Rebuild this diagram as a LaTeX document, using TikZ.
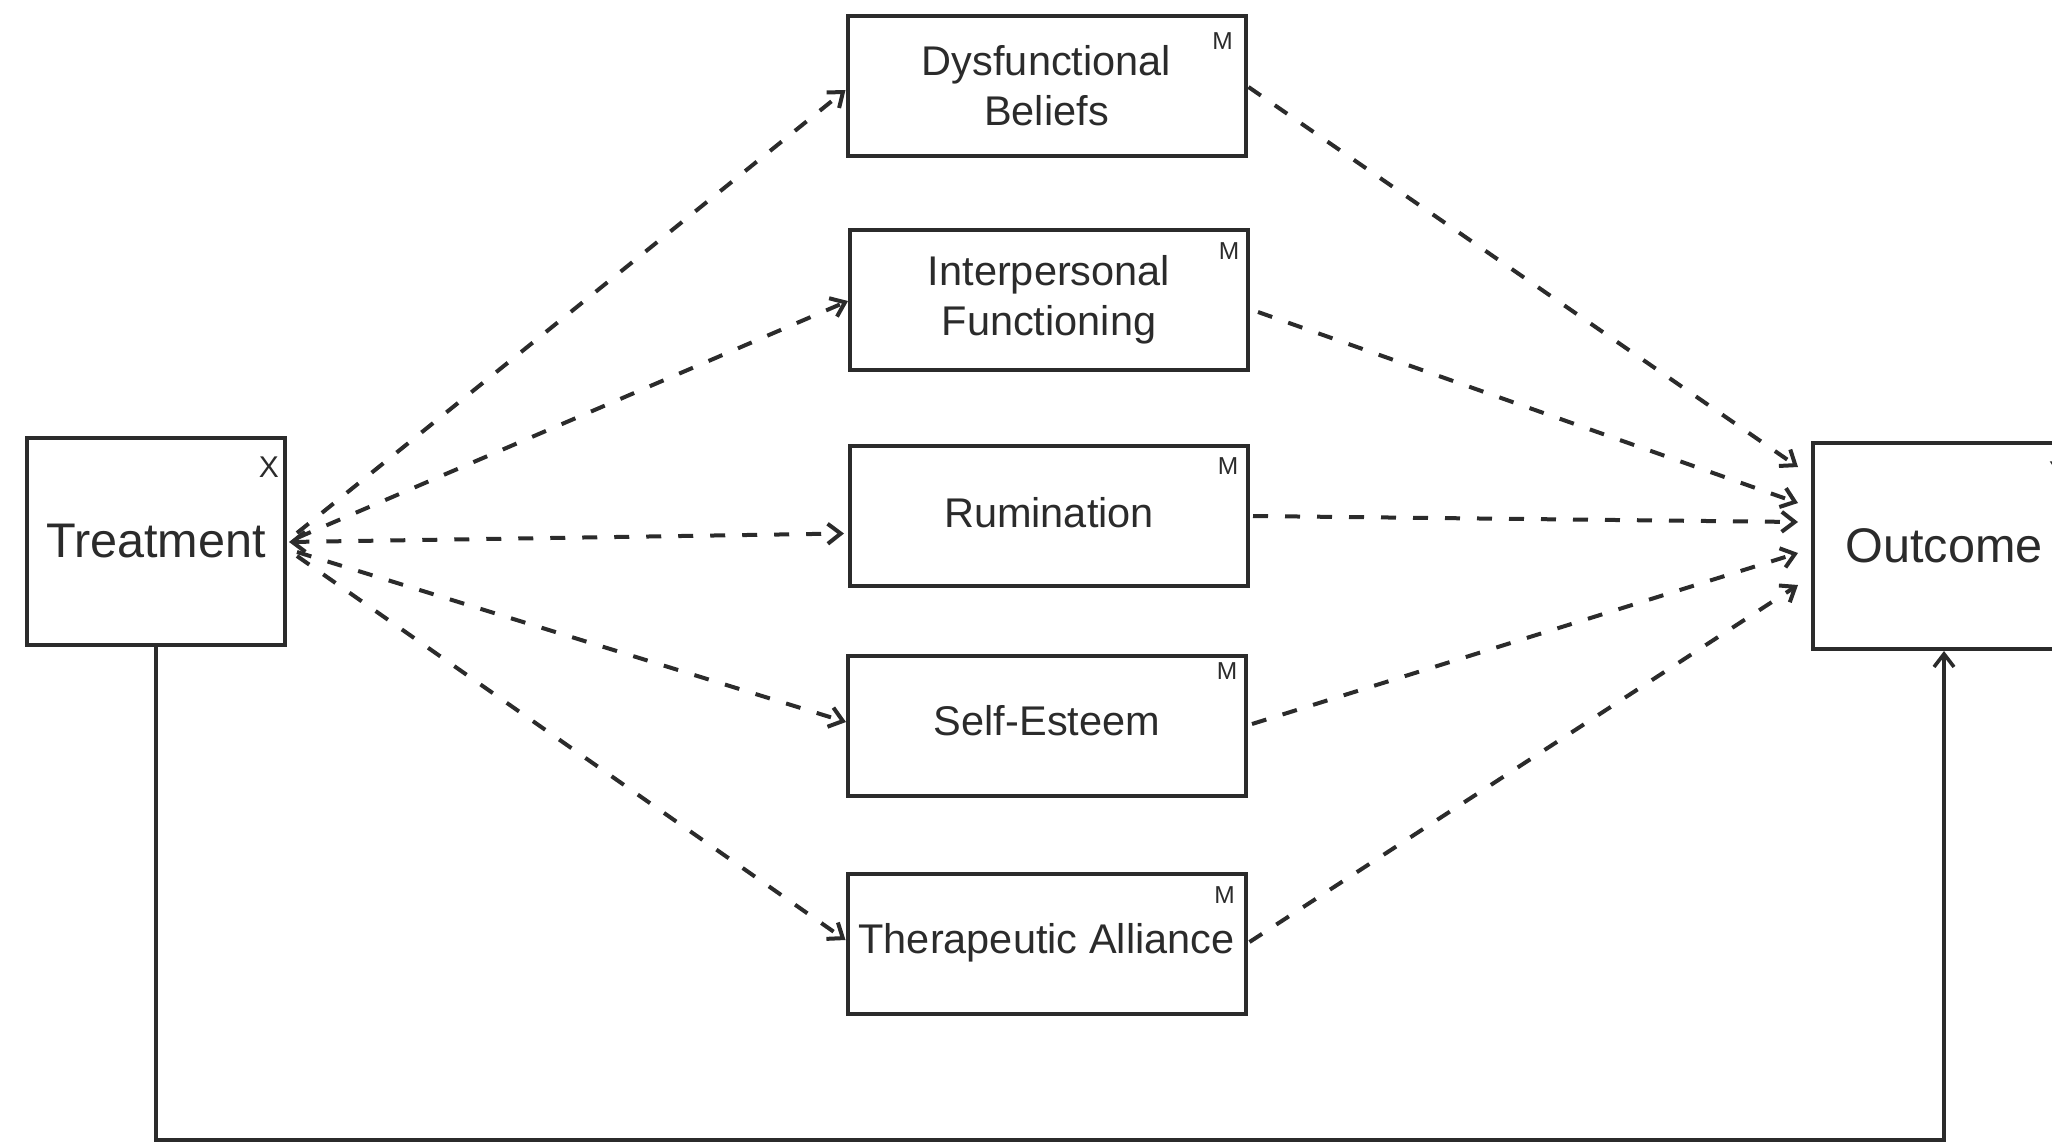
\documentclass[tikz,border=0pt]{standalone}
\usepackage{fontspec}
\setmainfont{Liberation Sans}
\usetikzlibrary{arrows.meta,calc}
\definecolor{ink}{HTML}{2B2B2B}
\begin{document}
\begin{tikzpicture}[x=0.5pt,y=-0.5pt,
  box/.style={draw=ink, line width=2pt, rectangle, inner sep=0pt, align=center, text=ink},
  medbox/.style={box, minimum width=199pt, minimum height=70pt, font=\fontsize{20.75}{24.8}\selectfont},
  endbox/.style={box, minimum width=129pt, minimum height=103.5pt, font=\fontsize{24.3}{28}\selectfont},
  oneline/.style={text depth=0.3em},
  tag/.style={text=ink, inner sep=0pt, font=\fontsize{12.25}{14}\selectfont},
  bigtag/.style={tag, font=\fontsize{15}{17}\selectfont},
  medarrow/.style={draw=ink, line width=2pt, dash pattern=on 7.5pt off 8.5pt,
    -{Straight Barb[length=6.5pt,width=10pt,line width=2pt]}},
  bothends/.style={{Straight Barb[length=6.5pt,width=10pt,line width=2pt]}-{Straight Barb[length=6.5pt,width=10pt,line width=2pt]}},
  direct/.style={draw=ink, line width=1.6pt, -{Straight Barb[length=6.5pt,width=10pt,line width=1.8pt]}}
]
\useasboundingbox (0,0) rectangle (2052,1142);
\clip (0,0) rectangle (2052,1142);

% nodes
\node[endbox] (T) at (156,541.5) {Treatment};
\node[endbox, minimum width=131pt, minimum height=103pt] (O) at (1944,546) {Outcome};
\node[medbox] (D) at (1046.5,85.5) {Dysfunctional\\Beliefs};
\node[medbox] (I) at (1049,300) {Interpersonal\\Functioning};
\node[medbox,oneline] (R) at (1049,515.5) {Rumination};
\node[medbox,text depth=0.6em] (S) at (1047,726) {Self-Esteem};
\node[medbox,text depth=0.55em] (A) at (1046.5,944) {Therapeutic Alliance};

% tags
\node[bigtag] (tx) at ($(T.north east)+(-18,31)$) {X};
\node[bigtag] (ty) at ($(O.north east)+(-18,31)$) {Y};
\node[tag] (md) at ($(D.north east)+(-25,28)$) {M};
\node[tag] (mi) at ($(I.north east)+(-21,23)$) {M};
\node[tag] (mr) at ($(R.north east)+(-22,23)$) {M};
\node[tag] (ms) at ($(S.north east)+(-21,17)$) {M};
\node[tag] (ma) at ($(A.north east)+(-23,23)$) {M};

% treatment -> mediators
\draw[medarrow] ($(T.east)+(10,-8.5)$) -- ($(D.west)+(0,4.5)$);
\draw[medarrow] ($(T.east)+(10,-3.5)$) -- ($(I.west)+(0,1)$);
\draw[medarrow,bothends] ($(T.east)+(2,0.5)$) -- ($(R.west)+(-4,18)$);
\draw[medarrow] ($(T.east)+(10,10.5)$) -- ($(S.west)+(0,-4)$);
\draw[medarrow] ($(T.east)+(10,14.5)$) -- ($(A.west)+(0,-4)$);

% mediators -> outcome
\draw[medarrow] ($(D.east)+(1,1.5)$) -- ($(O.west)+(-13,-79)$);
\draw[medarrow] ($(I.east)+(8,12)$) -- ($(O.west)+(-13,-43)$);
\draw[medarrow] ($(R.east)+(3,0.5)$) -- ($(O.west)+(-13,-24)$);
\draw[medarrow] ($(S.east)+(4,-2)$) -- ($(O.west)+(-13,7)$);
\draw[medarrow] ($(A.east)+(2,-2)$) -- ($(O.west)+(-13,39)$);

% direct effect
\coordinate (base) at (0,1140);
\draw[direct] (T.south) -- (T.south |- base) -| (O.south);
\end{tikzpicture}
\end{document}
